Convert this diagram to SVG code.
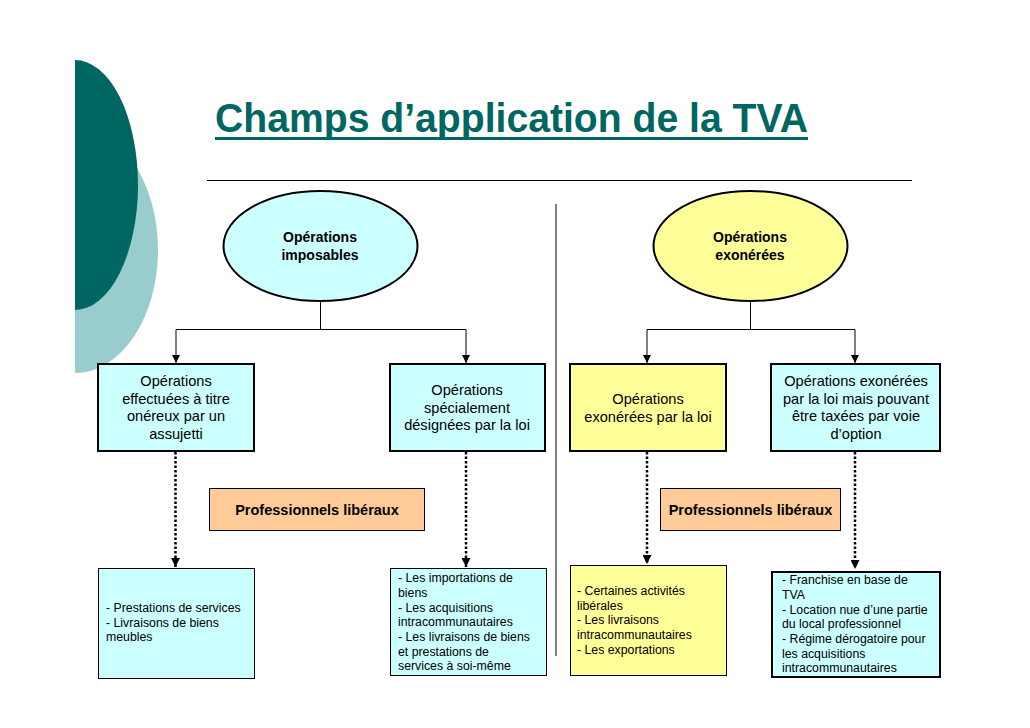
<svg xmlns="http://www.w3.org/2000/svg" width="1030" height="728" viewBox="0 0 1030 728">
<defs>
<style>
.t{font-family:"Liberation Sans",Arial,sans-serif;fill:#000}
.b{font-weight:bold;font-size:14px}
.p{font-weight:bold;font-size:14.5px}
.m{font-size:14.6px}
.s{font-size:12.3px}
.cy{fill:#CCFFFF}
.ye{fill:#FFFF99}
.k2{stroke:#000;stroke-width:2}
.k1{stroke:#000;stroke-width:1}
.ln{stroke:#000;stroke-width:1;fill:none}
.dt{stroke:#000;stroke-width:2.5;stroke-dasharray:2.5 2;fill:none}
</style>
<marker id="ar" viewBox="0 0 10 10" refX="10" refY="5" markerWidth="8" markerHeight="8" markerUnits="userSpaceOnUse" orient="auto">
<path d="M0,0 L10,5 L0,10 z" fill="#000"/>
</marker>
<marker id="ar2" viewBox="0 0 10 10" refX="10" refY="5" markerWidth="9" markerHeight="9" markerUnits="userSpaceOnUse" orient="auto">
<path d="M0,0 L10,5 L0,10 z" fill="#000"/>
</marker>
<clipPath id="cl"><rect x="75" y="0" width="200" height="728"/></clipPath>
</defs>
<rect width="1030" height="728" fill="#fff"/>
<g id="decor" clip-path="url(#cl)">
<ellipse cx="75" cy="250" rx="83" ry="123" fill="#99CCCC"/>
<ellipse cx="75" cy="185" rx="63" ry="125" fill="#006661"/>
</g>
<g id="title">
<text x="215" y="132" font-family="Liberation Sans,Arial,sans-serif" font-weight="bold" font-size="41" fill="#006661" textLength="593" lengthAdjust="spacingAndGlyphs">Champs d’application de la TVA</text>
<rect x="215" y="137" width="593" height="3" fill="#006661"/>
<line x1="207" y1="180.5" x2="912" y2="180.5" class="ln"/>
<line x1="556" y1="204" x2="556" y2="656" class="ln"/>
</g>
<g id="connectors">
<path d="M320.5,302 V329.5 M176,329.5 H466" class="ln"/>
<path d="M176,329.5 V363" class="ln" marker-end="url(#ar)"/>
<path d="M466,329.5 V363" class="ln" marker-end="url(#ar)"/>
<path d="M750.5,302 V329.5 M647,329.5 H855" class="ln"/>
<path d="M647,329.5 V363" class="ln" marker-end="url(#ar)"/>
<path d="M855,329.5 V363" class="ln" marker-end="url(#ar)"/>
<path d="M175.5,452 V567" class="dt" marker-end="url(#ar2)"/>
<path d="M466,452 V567" class="dt" marker-end="url(#ar2)"/>
<path d="M647,452 V564" class="dt" marker-end="url(#ar2)"/>
<path d="M855,452 V569" class="dt" marker-end="url(#ar2)"/>
</g>
<g id="imposables">
<ellipse cx="320.5" cy="246" rx="97" ry="55" class="cy k2"/>
<text class="t b" x="320" y="242" text-anchor="middle">Opérations</text>
<text class="t b" x="320" y="260" text-anchor="middle">imposables</text>
</g>
<g id="exonerees">
<ellipse cx="750.5" cy="246" rx="97" ry="55" class="ye k2"/>
<text class="t b" x="750" y="242" text-anchor="middle">Opérations</text>
<text class="t b" x="750" y="260" text-anchor="middle">exonérées</text>
</g>
<g id="onereux">
<rect x="98" y="364" width="156" height="87" class="cy k2"/>
<text class="t m" text-anchor="middle"><tspan x="176" y="386">Opérations</tspan><tspan x="176" y="403.5">effectuées à titre</tspan><tspan x="176" y="421">onéreux par un</tspan><tspan x="176" y="438.5">assujetti</tspan></text>
</g>
<g id="specialement">
<rect x="390" y="364" width="155" height="87" class="cy k2"/>
<text class="t m" text-anchor="middle"><tspan x="467" y="395">Opérations</tspan><tspan x="467" y="412.5">spécialement</tspan><tspan x="467" y="430">désignées par la loi</tspan></text>
</g>
<g id="exoLoi">
<rect x="570" y="364" width="156" height="87" class="ye k2"/>
<text class="t m" text-anchor="middle"><tspan x="648" y="404">Opérations</tspan><tspan x="648" y="421.5">exonérées par la loi</tspan></text>
</g>
<g id="exoOption">
<rect x="771" y="364" width="169" height="87" class="cy k2"/>
<text class="t m" text-anchor="middle"><tspan x="856" y="386">Opérations exonérées</tspan><tspan x="856" y="403.5">par la loi mais pouvant</tspan><tspan x="856" y="421">être taxées par voie</tspan><tspan x="856" y="438.5">d’option</tspan></text>
</g>
<g id="prof1">
<rect x="209.5" y="488.5" width="215" height="42" fill="#FFCC99" class="k1"/>
<text class="t p" x="317" y="515" text-anchor="middle">Professionnels libéraux</text>
</g>
<g id="prof2">
<rect x="660.5" y="488.5" width="180" height="42" fill="#FFCC99" class="k1"/>
<text class="t p" x="750.5" y="515" text-anchor="middle">Professionnels libéraux</text>
</g>
<g id="listE">
<rect x="98.5" y="568.5" width="156" height="110" class="cy k1"/>
<text class="t s"><tspan x="106" y="612">- Prestations de services</tspan><tspan x="106" y="626.5">- Livraisons de biens</tspan><tspan x="106" y="641">meubles</tspan></text>
</g>
<g id="listF">
<rect x="390.5" y="568.5" width="156" height="107" class="cy k1"/>
<text class="t s"><tspan x="398" y="582">- Les importations de</tspan><tspan x="398" y="597">biens</tspan><tspan x="398" y="611.5">- Les acquisitions</tspan><tspan x="398" y="626">intracommunautaires</tspan><tspan x="398" y="641">- Les livraisons de biens</tspan><tspan x="398" y="655.5">et prestations de</tspan><tspan x="398" y="670">services à soi-même</tspan></text>
</g>
<g id="listG">
<rect x="570.5" y="565.5" width="156" height="110" class="ye k1"/>
<text class="t s"><tspan x="577" y="595">- Certaines activités</tspan><tspan x="577" y="609.5">libérales</tspan><tspan x="577" y="624">- Les livraisons</tspan><tspan x="577" y="639">intracommunautaires</tspan><tspan x="577" y="654">- Les exportations</tspan></text>
</g>
<g id="listH">
<rect x="772" y="572" width="168" height="105" class="cy k2"/>
<text class="t s"><tspan x="782" y="584">- Franchise en base de</tspan><tspan x="782" y="598.5">TVA</tspan><tspan x="782" y="613.5">- Location nue d’une partie</tspan><tspan x="782" y="628">du local professionnel</tspan><tspan x="782" y="643">- Régime dérogatoire pour</tspan><tspan x="782" y="657.5">les acquisitions</tspan><tspan x="782" y="672">intracommunautaires</tspan></text>
</g>
</svg>
